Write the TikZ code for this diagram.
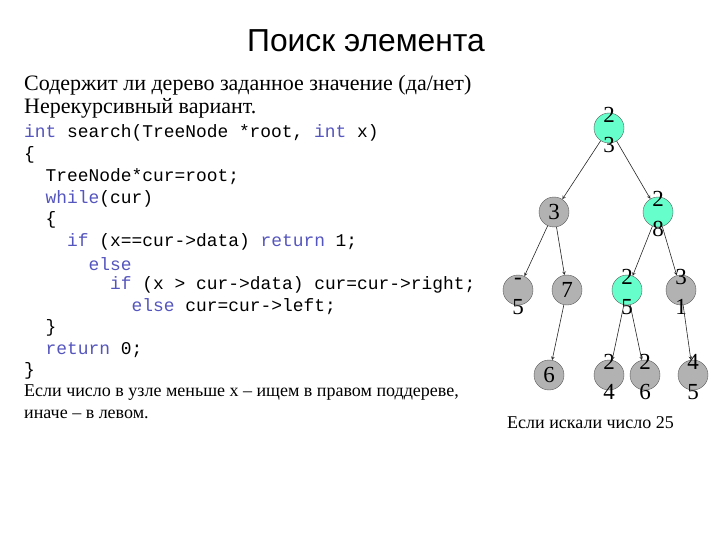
\documentclass[tikz,border=0pt]{standalone}
\usepackage{fontspec}
\setmainfont{Liberation Serif}
\setsansfont{Liberation Sans}
\setmonofont{Liberation Mono}
\definecolor{found}{RGB}{102,255,204}
\definecolor{other}{RGB}{178,178,178}
\definecolor{kw}{RGB}{85,85,190}
\newcommand{\kw}[1]{\textcolor{kw}{#1}}
\newcommand{\twodig}[2]{\makebox[0pt]{\raisebox{5.5pt}[0pt][0pt]{#1}}\makebox[0pt]{\raisebox{-24.5pt}[0pt][0pt]{#2}}}
\begin{document}
\begin{tikzpicture}[x=1pt,y=-1pt,>=stealth,
	code/.style={anchor=west,inner sep=0,font=\fontsize{17.9}{17.9}\ttfamily},
	txt/.style={anchor=west,inner sep=0,font=\fontsize{22}{22}\selectfont},
	small/.style={anchor=west,inner sep=0,font=\fontsize{18}{18}\selectfont},
	tnode/.style={circle,draw=black!65,inner sep=0,minimum size=30pt,font=\fontsize{23}{23}\selectfont},
	hit/.style={tnode,fill=found},
	miss/.style={tnode,fill=other},
	edge/.style={->,draw=black!85,line width=.6pt}]
	\useasboundingbox (0,0) rectangle (720,540);
	\node (title) at (366,41) {\fontsize{31.8}{31.8}\sffamily Поиск элемента};
	\node[txt] (q) at (24,85) {Содержит ли дерево заданное значение (да/нет)};
	\node[txt] (v) at (24,108) {Нерекурсивный вариант.};
	% code
	\node[code] (c1) at (24,133) {\kw{int} search(TreeNode *root, \kw{int} x)};
	\node[code] (c2) at (24,155) {\{};
	\node[code] (c3) at (45.5,177) {TreeNode*cur=root;};
	\node[code] (c4) at (45.5,199) {\kw{while}(cur)};
	\node[code] (c5) at (45.5,220) {\{};
	\node[code] (c6) at (67,242) {\kw{if} (x==cur->data) \kw{return} 1;};
	\node[code] (c7) at (88.5,264) {\kw{else}};
	\node[code] (c8) at (110,285) {\kw{if} (x > cur->data) cur=cur->right;};
	\node[code] (c9) at (131.5,307) {\kw{else} cur=cur->left;};
	\node[code] (c10) at (45.5,328) {\}};
	\node[code] (c11) at (45.5,350) {\kw{return} 0;};
	\node[code] (c12) at (24,371) {\}};
	\node[small] (n1) at (24,393) {Если число в узле меньше x – ищем в правом поддереве,};
	\node[small] (n2) at (24,414) {иначе – в левом.};
	% tree
	\node[hit] (t23) at (609,128) {\twodig{2}{3}};
	\node[miss] (t3) at (554,212) {3};
	\node[hit] (t28) at (658,212) {\twodig{2}{8}};
	\node[miss] (tm5) at (518,290) {\twodig{-}{5}};
	\node[miss] (t7) at (567,290) {7};
	\node[hit] (t25) at (627,290) {\twodig{2}{5}};
	\node[miss] (t31) at (681,290) {\twodig{3}{1}};
	\node[miss] (t6) at (549,375) {6};
	\node[miss] (t24) at (609,375) {\twodig{2}{4}};
	\node[miss] (t26) at (645,375) {\twodig{2}{6}};
	\node[miss] (t45) at (693,375) {\twodig{4}{5}};
	\draw[edge] (t23) -- (t3);
	\draw[edge] (t23) -- (t28);
	\draw[edge] (t3) -- (tm5);
	\draw[edge] (t3) -- (t7);
	\draw[edge] (t28) -- (t25);
	\draw[edge] (t28) -- (t31);
	\draw[edge] (t7) -- (t6);
	\draw[edge] (t25) -- (t24);
	\draw[edge] (t25) -- (t26);
	\draw[edge] (t31) -- (t45);
	\node[small] (cap) at (507,423) {Если искали число 25};
\end{tikzpicture}
\end{document}
